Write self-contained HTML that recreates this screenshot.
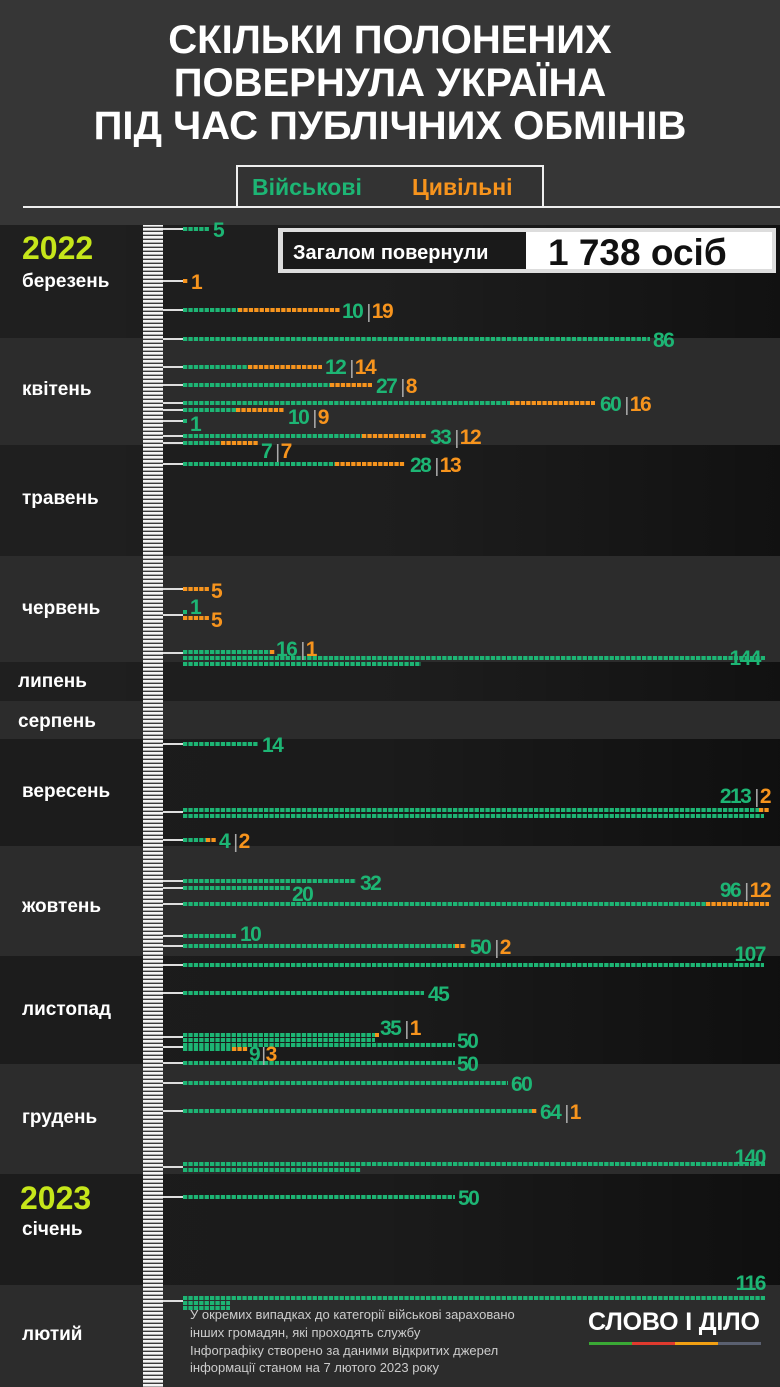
<!DOCTYPE html>
<html><head><meta charset="utf-8"><style>
html,body{margin:0;padding:0;background:#222;}
svg{display:block}
.t{font-family:"Liberation Sans",sans-serif;font-weight:bold}
.n{font-family:"Liberation Sans Narrow","Liberation Sans",sans-serif;font-weight:bold;font-size:21px;letter-spacing:-1.5px}
.g{fill:#1db574}.o{fill:#f7941d}.s{fill:#aaa;font-weight:normal;font-size:19px}
.m{font-family:"Liberation Sans",sans-serif;font-weight:bold;font-size:19px;fill:#fff}
.bg{stroke:#1db574;stroke-width:4;stroke-dasharray:4.3 1.1}
.bo{stroke:#f7941d;stroke-width:4;stroke-dasharray:4.3 1.1}
.c{stroke:#ddd;stroke-width:2}
</style></head><body>
<svg width="780" height="1387" viewBox="0 0 780 1387" xmlns="http://www.w3.org/2000/svg">
<defs>
<pattern id="rul" width="20" height="4" patternUnits="userSpaceOnUse"><rect width="20" height="4" fill="#3a3a3a"/><rect width="20" height="2.6" fill="#f4f4f4"/></pattern>
<linearGradient id="dk" x1="0" x2="1" y1="0" y2="0"><stop offset="0" stop-color="#000" stop-opacity="0"/><stop offset="0.5" stop-color="#000" stop-opacity="0.05"/><stop offset="1" stop-color="#000" stop-opacity="0.45"/></linearGradient>
</defs>
<rect x="0" y="0" width="780" height="225" fill="#363636"/>
<rect x="0" y="225" width="780" height="113" fill="#1f1f1f"/>
<rect x="0" y="338" width="780" height="107" fill="#2c2c2c"/>
<rect x="0" y="445" width="780" height="111" fill="#1f1f1f"/>
<rect x="0" y="556" width="780" height="106" fill="#2c2c2c"/>
<rect x="0" y="662" width="780" height="39" fill="#1f1f1f"/>
<rect x="0" y="701" width="780" height="38" fill="#2c2c2c"/>
<rect x="0" y="739" width="780" height="107" fill="#1c1c1c"/>
<rect x="0" y="846" width="780" height="110" fill="#2c2c2c"/>
<rect x="0" y="956" width="780" height="108" fill="#1c1c1c"/>
<rect x="0" y="1064" width="780" height="110" fill="#2c2c2c"/>
<rect x="0" y="1174" width="780" height="111" fill="#1c1c1c"/>
<rect x="0" y="1285" width="780" height="102" fill="#2c2c2c"/>
<rect x="0" y="225" width="780" height="113" fill="url(#dk)"/>
<rect x="0" y="445" width="780" height="111" fill="url(#dk)"/>
<rect x="0" y="662" width="780" height="39" fill="url(#dk)"/>
<rect x="0" y="739" width="780" height="107" fill="url(#dk)"/>
<rect x="0" y="956" width="780" height="108" fill="url(#dk)"/>
<rect x="0" y="1174" width="780" height="111" fill="url(#dk)"/>

<text class="t" x="390" y="53" font-size="40" fill="#fff" text-anchor="middle">СКІЛЬКИ ПОЛОНЕНИХ</text>
<text class="t" x="390" y="96" font-size="40" fill="#fff" text-anchor="middle">ПОВЕРНУЛА УКРАЇНА</text>
<text class="t" x="390" y="139" font-size="40" fill="#fff" text-anchor="middle">ПІД ЧАС ПУБЛІЧНИХ ОБМІНІВ</text>
<line x1="23" y1="207" x2="780" y2="207" stroke="#eee" stroke-width="2"/>
<rect x="237" y="166" width="306" height="41" fill="#333" stroke="#eee" stroke-width="2"/>
<text class="t" x="252" y="195" font-size="23" fill="#1db574">Військові</text>
<text class="t" x="412" y="195" font-size="23" fill="#f7941d">Цивільні</text>

<rect x="278" y="228" width="498" height="45" fill="#ddd"/>
<rect x="283" y="232" width="243" height="37" fill="#1a1a1a"/>
<rect x="526" y="232" width="246" height="37" fill="#fff"/>
<text class="t" x="293" y="259" font-size="20" fill="#fff">Загалом повернули</text>
<text class="t" x="548" y="265" font-size="37" fill="#111">1 738 осіб</text>

<text class="t" x="22" y="259" font-size="32" fill="#c6e61a">2022</text>
<text class="m" x="22" y="287">березень</text>
<text class="m" x="22" y="395">квітень</text>
<text class="m" x="22" y="504">травень</text>
<text class="m" x="22" y="614">червень</text>
<text class="m" x="18" y="687">липень</text>
<text class="m" x="18" y="727">серпень</text>
<text class="m" x="22" y="797">вересень</text>
<text class="m" x="22" y="912">жовтень</text>
<text class="m" x="22" y="1015">листопад</text>
<text class="m" x="22" y="1123">грудень</text>
<text class="t" x="20" y="1209" font-size="32" fill="#c6e61a">2023</text>
<text class="m" x="22" y="1235">січень</text>
<text class="m" x="22" y="1340">лютий</text>

<rect x="143" y="225" width="20" height="1162" fill="url(#rul)"/>

<g class="c">
<line x1="163" y1="229" x2="183" y2="229"/><line x1="163" y1="281" x2="183" y2="281"/>
<line x1="163" y1="310" x2="183" y2="310"/><line x1="163" y1="339" x2="183" y2="339"/>
<line x1="163" y1="367" x2="183" y2="367"/><line x1="163" y1="385" x2="183" y2="385"/>
<line x1="163" y1="403" x2="183" y2="403"/><line x1="163" y1="410" x2="183" y2="410"/>
<line x1="163" y1="421" x2="183" y2="421"/><line x1="163" y1="436" x2="183" y2="436"/>
<line x1="163" y1="443" x2="183" y2="443"/><line x1="163" y1="464" x2="183" y2="464"/>
<line x1="163" y1="589" x2="183" y2="589"/><line x1="163" y1="615" x2="183" y2="615"/>
<line x1="163" y1="653" x2="183" y2="653"/><line x1="163" y1="744" x2="183" y2="744"/>
<line x1="163" y1="812" x2="183" y2="812"/><line x1="163" y1="840" x2="183" y2="840"/>
<line x1="163" y1="881" x2="183" y2="881"/><line x1="163" y1="888" x2="183" y2="888"/>
<line x1="163" y1="904" x2="183" y2="904"/><line x1="163" y1="936" x2="183" y2="936"/>
<line x1="163" y1="946" x2="183" y2="946"/><line x1="163" y1="965" x2="183" y2="965"/>
<line x1="163" y1="993" x2="183" y2="993"/><line x1="163" y1="1037" x2="183" y2="1037"/>
<line x1="163" y1="1047" x2="183" y2="1047"/><line x1="163" y1="1063" x2="183" y2="1063"/>
<line x1="163" y1="1083" x2="183" y2="1083"/><line x1="163" y1="1111" x2="183" y2="1111"/>
<line x1="163" y1="1167" x2="183" y2="1167"/><line x1="163" y1="1197" x2="183" y2="1197"/>
<line x1="163" y1="1301" x2="183" y2="1301"/>
</g>

<g class="bg">
<line x1="183" y1="229" x2="209" y2="229"/>
<line x1="183" y1="310" x2="238" y2="310"/>
<line x1="183" y1="339" x2="650" y2="339"/>
<line x1="183" y1="367" x2="248" y2="367"/>
<line x1="183" y1="385" x2="330" y2="385"/>
<line x1="183" y1="403" x2="510" y2="403"/>
<line x1="183" y1="410" x2="236" y2="410"/>
<line x1="183" y1="421" x2="187" y2="421"/>
<line x1="183" y1="436" x2="362" y2="436"/>
<line x1="183" y1="443" x2="221" y2="443"/>
<line x1="183" y1="464" x2="335" y2="464"/>
<line x1="183" y1="612" x2="187" y2="612"/>
<line x1="183" y1="652" x2="270" y2="652"/>
<line x1="183" y1="658" x2="765" y2="658"/>
<line x1="183" y1="664" x2="421" y2="664"/>
<line x1="183" y1="744" x2="258" y2="744"/>
<line x1="183" y1="810" x2="759" y2="810"/>
<line x1="183" y1="816" x2="764" y2="816"/>
<line x1="183" y1="840" x2="206" y2="840"/>
<line x1="183" y1="881" x2="356" y2="881"/>
<line x1="183" y1="888" x2="290" y2="888"/>
<line x1="183" y1="904" x2="706" y2="904"/>
<line x1="183" y1="936" x2="236" y2="936"/>
<line x1="183" y1="946" x2="455" y2="946"/>
<line x1="183" y1="965" x2="764" y2="965"/>
<line x1="183" y1="993" x2="424" y2="993"/>
<line x1="183" y1="1035" x2="375" y2="1035"/>
<line x1="183" y1="1040" x2="375" y2="1040"/>
<line x1="183" y1="1045" x2="455" y2="1045"/>
<line x1="183" y1="1049" x2="232" y2="1049"/>
<line x1="183" y1="1063" x2="455" y2="1063"/>
<line x1="183" y1="1083" x2="508" y2="1083"/>
<line x1="183" y1="1111" x2="532" y2="1111"/>
<line x1="183" y1="1164" x2="765" y2="1164"/>
<line x1="183" y1="1170" x2="361" y2="1170"/>
<line x1="183" y1="1197" x2="455" y2="1197"/>
<line x1="183" y1="1298" x2="765" y2="1298"/>
<line x1="183" y1="1303" x2="230" y2="1303"/>
<line x1="183" y1="1308" x2="230" y2="1308"/>
</g>
<g class="bo">
<line x1="183" y1="281" x2="188" y2="281"/>
<line x1="238" y1="310" x2="340" y2="310"/>
<line x1="248" y1="367" x2="322" y2="367"/>
<line x1="330" y1="385" x2="372" y2="385"/>
<line x1="510" y1="403" x2="595" y2="403"/>
<line x1="236" y1="410" x2="284" y2="410"/>
<line x1="362" y1="436" x2="426" y2="436"/>
<line x1="221" y1="443" x2="258" y2="443"/>
<line x1="335" y1="464" x2="405" y2="464"/>
<line x1="183" y1="589" x2="209" y2="589"/>
<line x1="183" y1="618" x2="209" y2="618"/>
<line x1="270" y1="652" x2="275" y2="652"/>
<line x1="759" y1="810" x2="769" y2="810"/>
<line x1="206" y1="840" x2="216" y2="840"/>
<line x1="706" y1="904" x2="769" y2="904"/>
<line x1="455" y1="946" x2="466" y2="946"/>
<line x1="375" y1="1035" x2="379" y2="1035"/>
<line x1="232" y1="1049" x2="248" y2="1049"/>
<line x1="532" y1="1111" x2="537" y2="1111"/>
</g>

<g class="n">
<text x="213" y="237" class="g">5</text>
<text x="191" y="289" class="o">1</text>
<text x="342" y="318"><tspan class="g">10</tspan><tspan class="s" dx="4">|</tspan><tspan class="o" dx="2">19</tspan></text>
<text x="653" y="347" class="g">86</text>
<text x="325" y="374"><tspan class="g">12</tspan><tspan class="s" dx="4">|</tspan><tspan class="o" dx="2">14</tspan></text>
<text x="376" y="393"><tspan class="g">27</tspan><tspan class="s" dx="4">|</tspan><tspan class="o" dx="2">8</tspan></text>
<text x="600" y="411"><tspan class="g">60</tspan><tspan class="s" dx="4">|</tspan><tspan class="o" dx="2">16</tspan></text>
<text x="288" y="424"><tspan class="g">10</tspan><tspan class="s" dx="4">|</tspan><tspan class="o" dx="2">9</tspan></text>
<text x="190" y="431" class="g">1</text>
<text x="430" y="444"><tspan class="g">33</tspan><tspan class="s" dx="4">|</tspan><tspan class="o" dx="2">12</tspan></text>
<text x="261" y="458"><tspan class="g">7</tspan><tspan class="s" dx="4">|</tspan><tspan class="o" dx="2">7</tspan></text>
<text x="410" y="472"><tspan class="g">28</tspan><tspan class="s" dx="4">|</tspan><tspan class="o" dx="2">13</tspan></text>
<text x="211" y="598" class="o">5</text>
<text x="190" y="614" class="g">1</text>
<text x="211" y="627" class="o">5</text>
<text x="276" y="656"><tspan class="g">16</tspan><tspan class="s" dx="4">|</tspan><tspan class="o" dx="2">1</tspan></text>
<text x="760" y="665" class="g" text-anchor="end">144</text>
<text x="262" y="752" class="g">14</text>
<text x="770" y="803" text-anchor="end"><tspan class="g">213</tspan><tspan class="s" dx="4">|</tspan><tspan class="o" dx="2">2</tspan></text>
<text x="219" y="848"><tspan class="g">4</tspan><tspan class="s" dx="4">|</tspan><tspan class="o" dx="2">2</tspan></text>
<text x="360" y="890" class="g">32</text>
<text x="292" y="901" class="g">20</text>
<text x="770" y="897" text-anchor="end"><tspan class="g">96</tspan><tspan class="s" dx="4">|</tspan><tspan class="o" dx="2">12</tspan></text>
<text x="240" y="941" class="g">10</text>
<text x="470" y="954"><tspan class="g">50</tspan><tspan class="s" dx="4">|</tspan><tspan class="o" dx="2">2</tspan></text>
<text x="765" y="961" class="g" text-anchor="end">107</text>
<text x="428" y="1001" class="g">45</text>
<text x="380" y="1035"><tspan class="g">35</tspan><tspan class="s" dx="4">|</tspan><tspan class="o" dx="2">1</tspan></text>
<text x="457" y="1048" class="g">50</text>
<text x="249" y="1061"><tspan class="g">9</tspan><tspan class="s" dx="2">|</tspan><tspan class="o" dx="1">3</tspan></text>
<text x="457" y="1071" class="g">50</text>
<text x="511" y="1091" class="g">60</text>
<text x="540" y="1119"><tspan class="g">64</tspan><tspan class="s" dx="4">|</tspan><tspan class="o" dx="2">1</tspan></text>
<text x="765" y="1164" class="g" text-anchor="end">140</text>
<text x="458" y="1205" class="g">50</text>
<text x="765" y="1290" class="g" text-anchor="end">116</text>
</g>

<g font-family="Liberation Sans Narrow, Liberation Sans, sans-serif" font-size="13" fill="#ccc">
<text x="190" y="1319">У окремих випадках до категорії військові зараховано</text>
<text x="190" y="1337">інших громадян, які проходять службу</text>
<text x="190" y="1355">Інфографіку створено за даними відкритих джерел</text>
<text x="190" y="1372">інформації станом на 7 лютого 2023 року</text>
</g>
<text class="t" x="588" y="1330" font-size="25" fill="#fff" textLength="172">СЛОВО І ДІЛО</text>
<rect x="589" y="1342" width="43" height="3" fill="#3aa935"/>
<rect x="632" y="1342" width="43" height="3" fill="#e03a2e"/>
<rect x="675" y="1342" width="43" height="3" fill="#f2a013"/>
<rect x="718" y="1342" width="43" height="3" fill="#5a6070"/>
</svg>
</body></html>
